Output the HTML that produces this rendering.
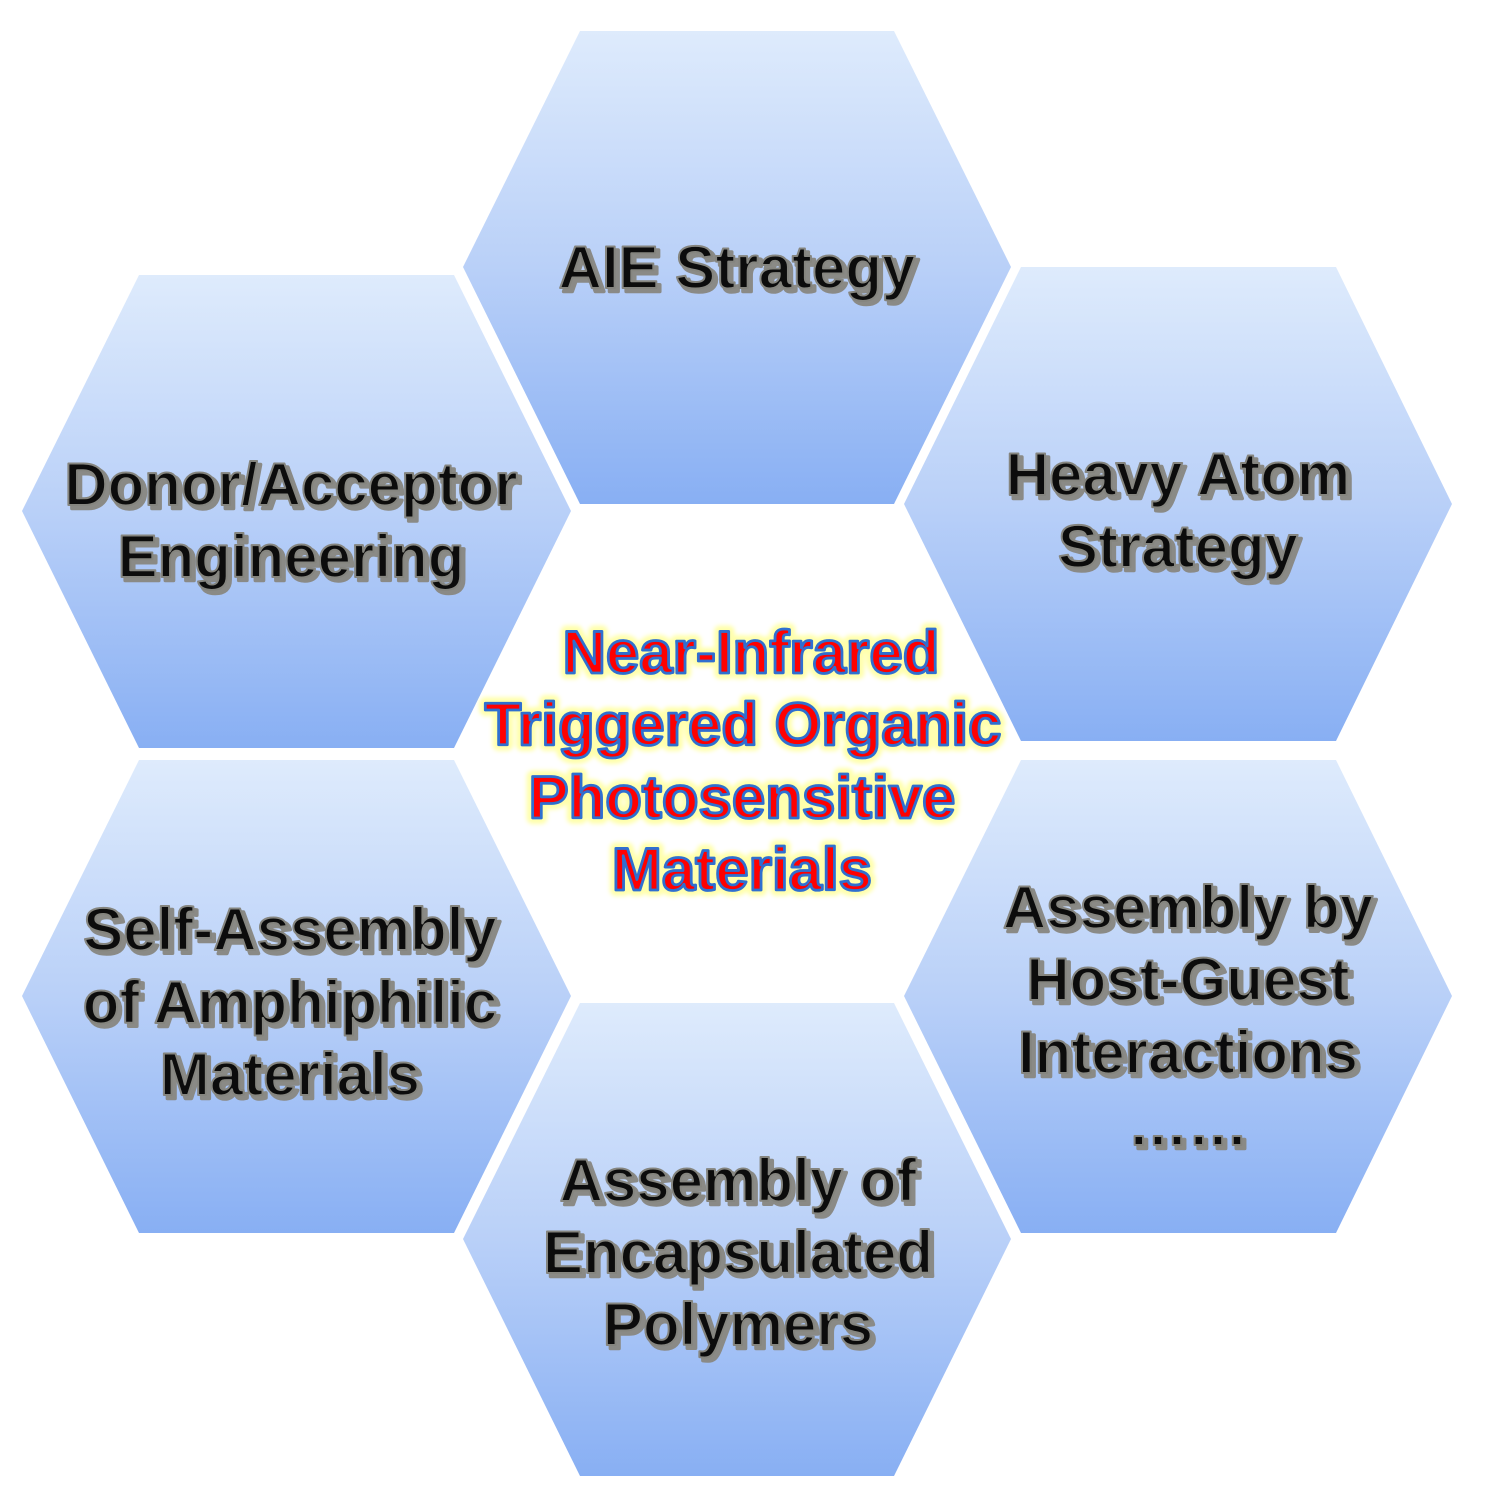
<!DOCTYPE html>
<html>
<head>
<meta charset="utf-8">
<style>
html,body{margin:0;padding:0;background:#fff;width:1500px;height:1500px;overflow:hidden}
svg{display:block}
text{font-family:"Liberation Sans",Arial,sans-serif;font-weight:bold;font-size:60px;text-anchor:middle}
.s{fill:#8a8a86;stroke:#8a8a86;stroke-width:3.5px;stroke-linejoin:round}
.o{fill:#0c0c0c;stroke:#85857f;stroke-width:2px;stroke-linejoin:round}
.g{fill:#ffff90;stroke:#ffff90;stroke-width:12px;stroke-linejoin:round;opacity:.75}
.r{fill:#ff0000;stroke:#2f6fd0;stroke-width:2.8px;stroke-linejoin:round}
</style>
</head>
<body>
<svg width="1500" height="1500" viewBox="0 0 1500 1500" xmlns="http://www.w3.org/2000/svg">
<defs>
<linearGradient id="h" x1="0" y1="0" x2="0" y2="1">
<stop offset="0" stop-color="#deebfc"/>
<stop offset="0.5" stop-color="#b9d0f8"/>
<stop offset="1" stop-color="#88aff3"/>
</linearGradient>
<filter id="b" x="-10%" y="-10%" width="120%" height="120%"><feGaussianBlur stdDeviation="2.2"/></filter>
</defs>
<g fill="url(#h)">
<polygon points="580,31 894,31 1011,267 894,504 580,504 463,267"/>
<polygon points="1021,267 1336,267 1452,504 1336,741 1021,741 904,504"/>
<polygon points="139,275 454,275 571,511 454,748 139,748 22,511"/>
<polygon points="139,760 454,760 571,996 454,1233 139,1233 22,996"/>
<polygon points="1021,760 1336,760 1452,996 1336,1233 1021,1233 904,996"/>
<polygon points="580,1003 894,1003 1011,1239 894,1476 580,1476 463,1239"/>
</g>

<g class="s" transform="translate(3.5,3.5)">
<text x="737" y="288">AIE Strategy</text>
<text x="291" y="505">Donor/Acceptor</text>
<text x="291" y="577">Engineering</text>
<text x="1178" y="495">Heavy Atom</text>
<text x="1178" y="567">Strategy</text>
<text x="290" y="950">Self-Assembly</text>
<text x="290" y="1023">of Amphiphilic</text>
<text x="290" y="1095">Materials</text>
<text x="1188" y="928">Assembly by</text>
<text x="1188" y="1000">Host-Guest</text>
<text x="1188" y="1073">Interactions</text>
<text x="1188" y="1145">……</text>
<text x="738" y="1201">Assembly of</text>
<text x="738" y="1273">Encapsulated</text>
<text x="738" y="1345">Polymers</text>
</g>
<g class="o">
<text x="737" y="288">AIE Strategy</text>
<text x="291" y="505">Donor/Acceptor</text>
<text x="291" y="577">Engineering</text>
<text x="1178" y="495">Heavy Atom</text>
<text x="1178" y="567">Strategy</text>
<text x="290" y="950">Self-Assembly</text>
<text x="290" y="1023">of Amphiphilic</text>
<text x="290" y="1095">Materials</text>
<text x="1188" y="928">Assembly by</text>
<text x="1188" y="1000">Host-Guest</text>
<text x="1188" y="1073">Interactions</text>
<text x="1188" y="1145">……</text>
<text x="738" y="1201">Assembly of</text>
<text x="738" y="1273">Encapsulated</text>
<text x="738" y="1345">Polymers</text>
</g>

<g class="g" filter="url(#b)">
<text x="751" y="673">Near-Infrared</text>
<text x="743" y="745">Triggered Organic</text>
<text x="742" y="818">Photosensitive</text>
<text x="742" y="890">Materials</text>
</g>
<g class="r">
<text x="751" y="673">Near-Infrared</text>
<text x="743" y="745">Triggered Organic</text>
<text x="742" y="818">Photosensitive</text>
<text x="742" y="890">Materials</text>
</g>
</svg>
</body>
</html>
